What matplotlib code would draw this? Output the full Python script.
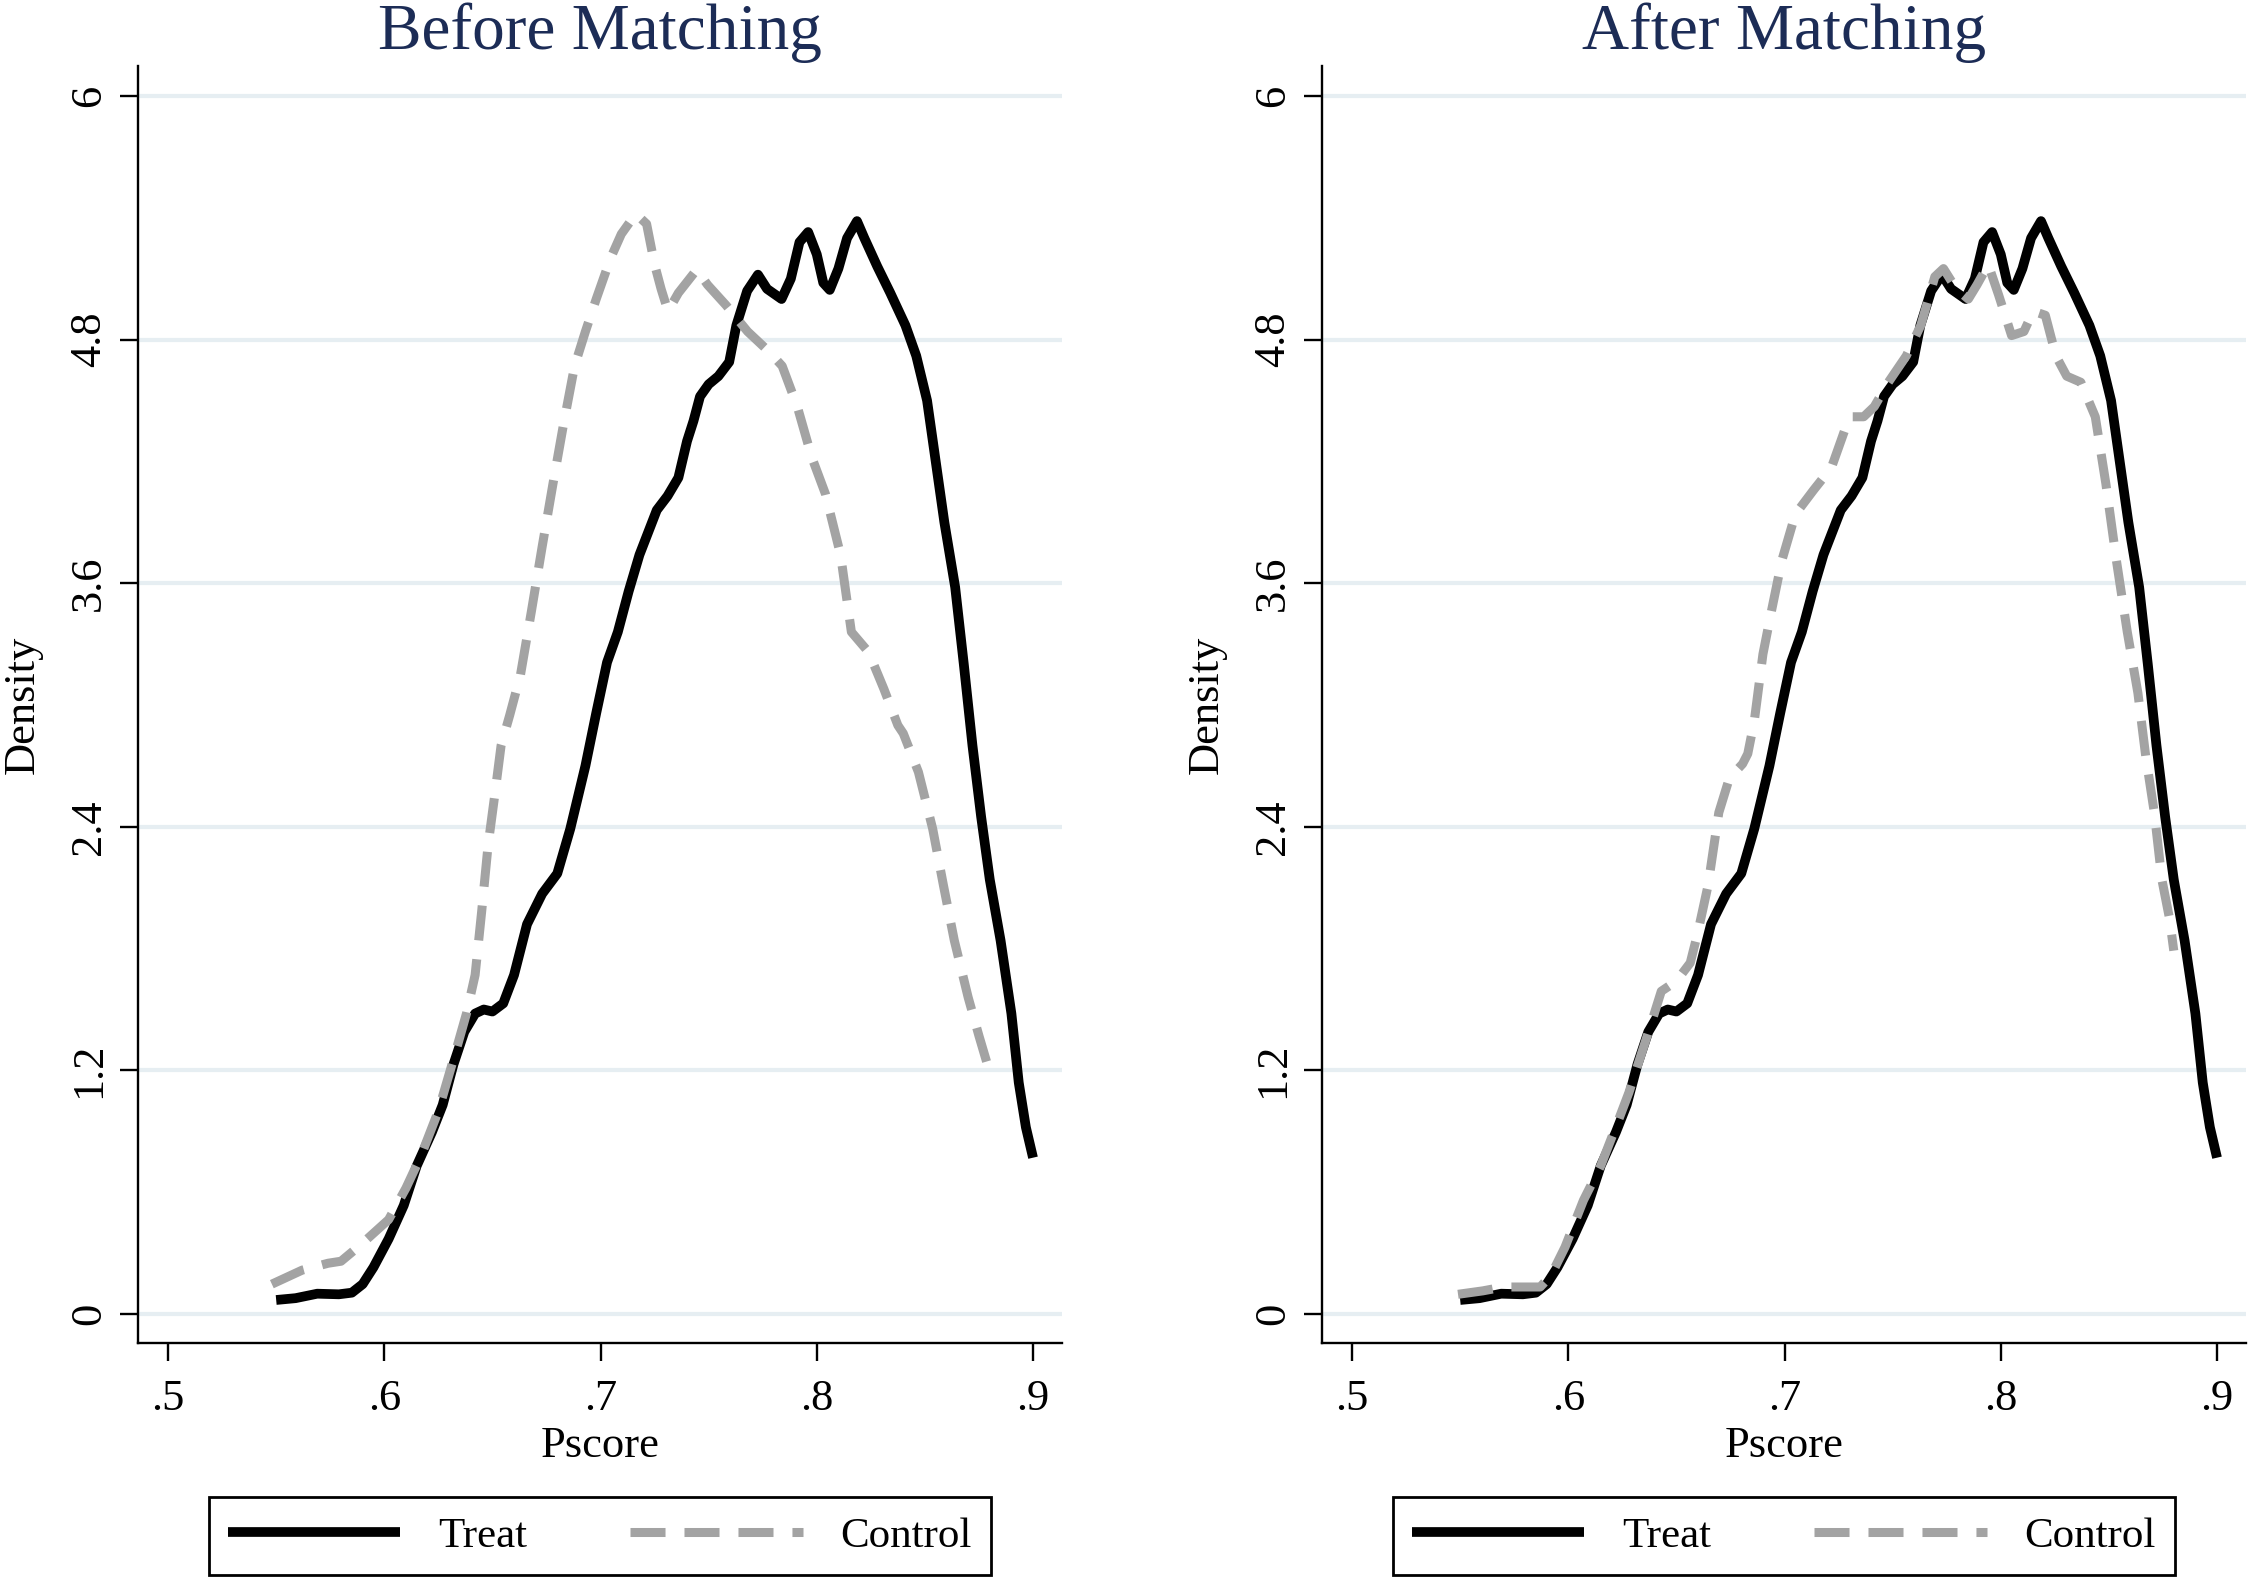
import matplotlib
matplotlib.use('Agg')
import matplotlib.pyplot as plt
from matplotlib.lines import Line2D

# 傾向分數
treat_x = [0.550, 0.559, 0.569, 0.579, 0.585, 0.590, 0.595, 0.602, 0.609, 0.615,
           0.622, 0.627, 0.632, 0.637, 0.642, 0.646, 0.650, 0.655, 0.660, 0.666,
           0.673, 0.680, 0.686, 0.693, 0.698, 0.703, 0.708, 0.713, 0.718, 0.726,
           0.731, 0.736, 0.740, 0.743, 0.746, 0.750, 0.7545, 0.7595, 0.7628, 0.7678,
           0.7728, 0.777, 0.7837, 0.788, 0.792, 0.796, 0.800, 0.803, 0.806, 0.810,
           0.814, 0.8186, 0.822, 0.828, 0.834, 0.841, 0.846, 0.851, 0.855, 0.859,
           0.864, 0.868, 0.872, 0.876, 0.880, 0.885, 0.890, 0.8934, 0.8967, 0.900]
treat_y = [0.069, 0.078, 0.100, 0.097, 0.105, 0.147, 0.23, 0.37, 0.535, 0.73,
           0.895, 1.03, 1.23, 1.39, 1.48, 1.50, 1.49, 1.53, 1.67, 1.92,
           2.07, 2.17, 2.39, 2.70, 2.96, 3.21, 3.36, 3.56, 3.74, 3.96,
           4.03, 4.12, 4.30, 4.40, 4.52, 4.58, 4.62, 4.69, 4.87, 5.04,
           5.12, 5.05, 5.00, 5.10, 5.28, 5.33, 5.22, 5.08, 5.045, 5.15,
           5.30, 5.384, 5.30, 5.16, 5.03, 4.87, 4.72, 4.50, 4.20, 3.90,
           3.58, 3.20, 2.80, 2.45, 2.14, 1.84, 1.48, 1.14, 0.92, 0.77]

ctrl_before_x = [0.548, 0.562, 0.574, 0.580, 0.589, 0.602, 0.610, 0.617, 0.625, 0.632,
                 0.638, 0.642, 0.645, 0.648, 0.651, 0.654, 0.658, 0.663, 0.668, 0.673,
                 0.678, 0.683, 0.688, 0.693, 0.698, 0.7046, 0.7096, 0.7163, 0.7213, 0.725,
                 0.728, 0.7312, 0.736, 0.7445, 0.7495, 0.758, 0.768, 0.778, 0.784, 0.791,
                 0.7977, 0.804, 0.811, 0.816, 0.824, 0.831, 0.8375, 0.840, 0.847, 0.8536,
                 0.8586, 0.8636, 0.870, 0.875, 0.880]
ctrl_before_y = [0.147, 0.216, 0.25, 0.26, 0.34, 0.465, 0.62, 0.78, 1.00, 1.255,
                 1.48, 1.67, 1.98, 2.31, 2.55, 2.80, 2.95, 3.15, 3.46, 3.78,
                 4.09, 4.39, 4.67, 4.84, 5.00, 5.20, 5.32, 5.42, 5.37, 5.17,
                 5.05, 4.94, 5.03, 5.145, 5.07, 4.97, 4.84, 4.74, 4.67, 4.47,
                 4.22, 4.04, 3.74, 3.36, 3.26, 3.08, 2.90, 2.86, 2.67, 2.39,
                 2.11, 1.84, 1.56, 1.37, 1.19]

ctrl_after_x = [0.549, 0.5605, 0.570, 0.580, 0.587, 0.592, 0.5985, 0.607, 0.615, 0.623,
                0.628, 0.633, 0.638, 0.643, 0.650, 0.6564, 0.6597, 0.6646, 0.6696, 0.6745,
                0.6806, 0.683, 0.686, 0.690, 0.6937, 0.6987, 0.705, 0.7135, 0.7217, 0.7267,
                0.730, 0.7366, 0.7415, 0.748, 0.7563, 0.763, 0.7695, 0.7735, 0.7794, 0.785,
                0.789, 0.7942, 0.799, 0.805, 0.8107, 0.815, 0.8206, 0.8255, 0.8305, 0.837,
                0.8437, 0.8486, 0.8535, 0.8585, 0.8634, 0.867, 0.871, 0.8745, 0.878, 0.880]
ctrl_after_y = [0.097, 0.114, 0.133, 0.133, 0.133, 0.19, 0.33, 0.56, 0.73, 0.95,
                1.09, 1.255, 1.42, 1.59, 1.64, 1.73, 1.87, 2.11, 2.47, 2.64,
                2.71, 2.76, 2.92, 3.25, 3.45, 3.71, 3.94, 4.06, 4.17, 4.32,
                4.42, 4.42, 4.47, 4.59, 4.72, 4.87, 5.11, 5.15, 5.05, 5.00,
                5.07, 5.17, 5.02, 4.82, 4.84, 4.94, 4.92, 4.72, 4.62, 4.59,
                4.42, 4.09, 3.71, 3.36, 3.06, 2.75, 2.47, 2.14, 1.95, 1.79]

titles = ['Before Matching', 'After Matching']
legend_labels = ['Treat', 'Control']
x_ticks = [0.5, 0.6, 0.7, 0.8, 0.9]
x_tick_labels = ['.5', '.6', '.7', '.8', '.9']
y_ticks = [0, 1.2, 2.4, 3.6, 4.8, 6]
y_tick_labels = ['0', '1.2', '2.4', '3.6', '4.8', '6']

W, H = 2250, 1582
GRAY = '#a3a3a3'
NAVY = '#1c2c56'
GRID = '#e6eef2'

plt.rcParams['font.family'] = ['Liberation Serif', 'DejaVu Serif']

fig = plt.figure(figsize=(W / 100, H / 100), dpi=100)
fig.patch.set_facecolor('white')


def draw_panel(left_px, title, ctrl_x, ctrl_y):
    ax = fig.add_axes([left_px / W, 1 - 1343 / H, 924 / W, 1277 / H])
    ax.set_xlim(0.4861, 0.9134)
    ax.set_ylim(-0.1429, 6.148)

    ax.plot(treat_x, treat_y, color='black', lw=7, solid_capstyle='butt',
            solid_joinstyle='round', zorder=3)
    ax.plot(ctrl_x, ctrl_y, color=GRAY, lw=6.5, dashes=(3.88, 2.1),
            dash_capstyle='butt', zorder=4)

    ax.set_xticks(x_ticks)
    ax.set_xticklabels(x_tick_labels)
    ax.set_yticks(y_ticks)
    ax.set_yticklabels(y_tick_labels, rotation=90, va='center')
    ax.tick_params(direction='out', length=13, width=1.7, labelsize=32, color='black')
    ax.tick_params(axis='x', pad=13)
    ax.tick_params(axis='y', pad=8)

    ax.grid(axis='y', color=GRID, lw=3, zorder=0)
    ax.grid(axis='x', visible=False)
    for s in ['top', 'right']:
        ax.spines[s].set_visible(False)
    for s in ['left', 'bottom']:
        ax.spines[s].set_linewidth(1.7)

    ax.set_xlabel('Pscore', fontsize=32, labelpad=5)
    ax.set_ylabel('Density', fontsize=32, labelpad=19)
    ax.set_title(title, fontsize=47, color=NAVY, pad=12.5)

    handles = [Line2D([], [], color='black', lw=7, solid_capstyle='butt'),
               Line2D([], [], color=GRAY, lw=6.5, dashes=(3.88, 2.1), dash_capstyle='butt')]
    cx = (left_px + 462) / W
    leg = fig.legend(handles, legend_labels, loc='center', bbox_to_anchor=(cx, 1 - 1536 / H),
                     ncol=2, frameon=True, fancybox=False, edgecolor='black', framealpha=1,
                     fontsize=31, handlelength=4.0, handletextpad=0.88, columnspacing=2.4,
                     borderpad=0.45)
    leg.get_frame().set_linewidth(2)
    return ax


draw_panel(138, titles[0], ctrl_before_x, ctrl_before_y)
draw_panel(1322, titles[1], ctrl_after_x, ctrl_after_y)

fig.savefig('out.png', dpi=100)
